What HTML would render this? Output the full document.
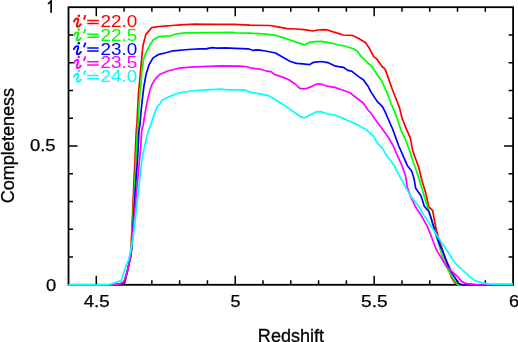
<!DOCTYPE html><html><head><meta charset="utf-8"><style>html,body{margin:0;padding:0;background:#fff;}svg{display:block;will-change:transform;font-family:"Liberation Sans",sans-serif;}</style></head><body>
<svg width="518" height="342" viewBox="0 0 518 342">
<rect width="518" height="342" fill="#fff"/>
<rect x="68.5" y="7.2" width="444.6" height="277.6" fill="none" stroke="#000" stroke-width="1.8"/>
<path d="M96.29 284.8v-9M96.29 7.2v9M124.08 284.8v-4.5M124.08 7.2v4.5M151.86 284.8v-4.5M151.86 7.2v4.5M179.65 284.8v-4.5M179.65 7.2v4.5M207.44 284.8v-4.5M207.44 7.2v4.5M235.22 284.8v-9M235.22 7.2v9M263.01 284.8v-4.5M263.01 7.2v4.5M290.80 284.8v-4.5M290.80 7.2v4.5M318.59 284.8v-4.5M318.59 7.2v4.5M346.38 284.8v-4.5M346.38 7.2v4.5M374.16 284.8v-9M374.16 7.2v9M401.95 284.8v-4.5M401.95 7.2v4.5M429.74 284.8v-4.5M429.74 7.2v4.5M457.53 284.8v-4.5M457.53 7.2v4.5M485.31 284.8v-4.5M485.31 7.2v4.5M68.5 257.04h4.5M513.1 257.04h-4.5M68.5 229.28h4.5M513.1 229.28h-4.5M68.5 201.52h4.5M513.1 201.52h-4.5M68.5 173.76h4.5M513.1 173.76h-4.5M68.5 146.00h9M513.1 146.00h-9M68.5 118.24h4.5M513.1 118.24h-4.5M68.5 90.48h4.5M513.1 90.48h-4.5M68.5 62.72h4.5M513.1 62.72h-4.5M68.5 34.96h4.5M513.1 34.96h-4.5" stroke="#000" stroke-width="1.5" fill="none"/>
<path d="M68.3 284.8 L114.0 284.8 L121.0 284.4 L124.8 282.6 L127.4 271.0 L130.2 257.0 L131.0 250.0 L132.3 220.0 L134.0 180.0 L135.0 160.0 L136.3 130.0 L136.9 125.0 L137.8 106.0 L138.7 89.7 L139.3 85.0 L140.8 68.4 L142.3 52.0 L143.1 45.0 L144.0 41.6 L145.8 34.6 L148.7 31.1 L151.6 27.7 L159.2 26.5 L165.0 26.1 L172.0 25.5 L180.2 24.9 L195.4 24.2 L215.0 24.4 L234.0 24.3 L250.0 25.2 L270.2 25.5 L277.9 26.9 L287.2 28.6 L296.5 29.0 L304.3 29.7 L312.8 31.0 L318.2 30.0 L324.4 29.7 L327.0 29.8 L333.2 31.9 L343.3 35.0 L352.6 35.5 L358.8 38.6 L365.7 42.8 L369.6 48.7 L373.5 56.4 L376.6 58.8 L382.0 66.5 L385.0 68.9 L388.1 77.4 L391.9 88.3 L395.8 98.3 L399.7 108.4 L402.0 118.0 L405.7 127.4 L410.4 138.3 L412.7 150.7 L416.6 161.5 L418.9 168.0 L421.9 180.5 L425.7 192.9 L428.8 206.9 L432.7 210.7 L434.0 218.0 L436.4 230.5 L440.1 242.9 L445.4 258.4 L448.6 268.0 L451.2 276.9 L454.5 282.2 L457.2 284.8 L513.0 284.8" stroke="#ff0000" stroke-width="1.7" fill="none" stroke-linejoin="round"/>
<path d="M68.3 284.8 L112.5 284.8 L120.0 283.8 L124.2 281.6 L127.4 271.0 L130.4 257.0 L131.3 250.0 L132.8 220.0 L135.0 180.0 L136.0 160.0 L137.5 130.0 L138.1 125.0 L138.9 108.4 L139.9 94.4 L140.8 85.0 L142.0 70.7 L143.7 59.0 L146.0 52.5 L147.6 49.7 L150.5 43.9 L153.4 39.8 L159.2 36.6 L165.0 36.1 L170.8 35.8 L176.7 33.8 L182.6 33.2 L188.4 32.9 L210.0 32.6 L232.7 32.4 L235.8 33.0 L250.0 33.1 L262.4 33.9 L274.8 35.2 L284.1 37.9 L290.3 40.1 L296.5 42.1 L304.3 44.9 L308.9 42.6 L315.1 41.7 L321.3 41.4 L330.0 42.9 L332.4 43.3 L337.8 44.8 L344.8 46.0 L353.3 48.7 L357.2 51.0 L361.1 56.4 L366.5 61.6 L371.9 66.5 L376.4 73.5 L381.9 81.3 L386.5 91.4 L391.2 103.8 L396.0 115.0 L401.1 130.5 L405.0 138.3 L409.6 150.7 L413.5 163.1 L414.9 166.0 L419.5 180.5 L424.2 196.0 L428.1 208.4 L431.2 218.0 L434.5 230.5 L439.0 244.5 L441.0 252.3 L446.7 267.5 L451.4 275.7 L454.9 281.0 L457.8 284.8 L513.0 284.8" stroke="#00ff00" stroke-width="1.7" fill="none" stroke-linejoin="round"/>
<path d="M68.3 284.8 L113.0 284.8 L120.5 284.2 L124.5 282.2 L127.4 271.0 L130.6 257.0 L131.6 250.0 L133.4 220.0 L136.0 180.0 L137.5 160.0 L139.0 130.0 L139.9 125.0 L141.0 112.0 L142.5 97.9 L144.1 85.0 L146.1 74.2 L149.0 64.9 L153.1 57.9 L158.9 54.3 L165.0 53.0 L173.2 50.8 L188.4 49.5 L200.0 48.9 L206.0 48.9 L211.8 47.6 L217.6 48.1 L225.0 47.8 L235.0 48.3 L248.2 48.8 L252.9 50.3 L257.8 49.9 L265.5 51.0 L275.6 53.0 L283.3 57.6 L290.3 61.5 L296.5 63.4 L302.7 63.8 L309.7 64.6 L313.6 62.3 L321.3 61.5 L327.8 62.6 L335.5 66.2 L343.3 67.3 L347.8 70.4 L351.6 71.2 L358.6 76.6 L363.3 79.7 L367.9 85.9 L371.0 92.1 L377.2 101.4 L382.6 106.9 L385.7 113.1 L387.8 118.0 L392.6 129.0 L398.8 146.0 L404.2 158.4 L407.3 165.4 L411.8 171.2 L414.1 179.0 L415.7 188.3 L421.1 196.0 L424.2 206.1 L428.8 211.5 L430.5 216.5 L434.9 230.5 L439.5 244.5 L442.5 251.0 L446.7 261.7 L451.4 272.2 L456.0 279.2 L458.4 283.3 L461.9 284.8 L513.0 284.8" stroke="#0000ff" stroke-width="1.7" fill="none" stroke-linejoin="round"/>
<path d="M68.3 284.8 L112.5 284.8 L120.0 283.8 L124.2 281.6 L127.4 271.0 L130.6 257.0 L131.3 250.0 L133.9 220.0 L137.7 180.0 L139.5 160.0 L140.5 150.0 L141.8 130.0 L143.2 125.0 L145.1 113.0 L147.5 100.2 L149.8 90.8 L151.7 85.0 L155.4 78.9 L160.1 74.2 L167.8 71.0 L178.6 68.2 L191.0 67.1 L206.5 66.3 L222.0 65.9 L240.0 66.2 L245.5 66.5 L251.7 68.1 L261.0 69.3 L267.2 71.2 L271.1 71.6 L274.2 74.4 L282.7 77.1 L288.9 79.8 L295.1 84.0 L299.8 88.4 L303.6 88.8 L305.2 89.0 L311.4 86.6 L317.6 83.8 L322.2 84.3 L326.9 86.2 L334.6 87.4 L342.4 90.0 L350.1 92.8 L357.9 99.0 L363.3 103.0 L367.9 110.0 L371.0 113.1 L374.1 118.0 L380.2 125.9 L387.9 136.7 L393.3 146.0 L398.0 156.9 L401.9 165.4 L405.6 175.9 L407.1 186.7 L411.0 197.6 L416.4 208.4 L420.9 215.0 L427.1 225.9 L432.6 239.8 L436.4 249.9 L440.8 257.0 L445.5 265.2 L451.4 271.0 L457.2 276.3 L461.9 281.6 L466.6 283.7 L475.9 284.6 L513.0 284.8" stroke="#ff00ff" stroke-width="1.7" fill="none" stroke-linejoin="round"/>
<path d="M68.3 284.8 L109.0 284.8 L116.0 282.4 L121.3 280.4 L125.4 267.5 L128.5 260.0 L130.0 254.0 L131.3 247.0 L132.8 240.0 L135.2 220.0 L139.6 180.0 L141.9 160.0 L143.9 150.0 L146.0 140.0 L148.6 130.0 L150.6 125.0 L153.9 115.4 L157.2 106.6 L159.8 104.2 L162.1 100.2 L166.0 98.0 L170.9 96.1 L178.6 93.0 L191.0 91.0 L206.5 89.9 L220.5 89.1 L228.2 89.9 L240.0 89.9 L245.5 90.2 L250.2 92.1 L261.0 94.1 L268.8 95.7 L275.0 99.5 L282.7 104.2 L290.5 109.6 L297.4 114.5 L301.3 117.2 L305.2 117.6 L309.8 115.0 L316.0 111.9 L321.4 111.7 L328.4 114.1 L334.6 115.0 L342.4 118.1 L350.1 121.5 L357.9 124.9 L362.0 127.5 L366.2 129.7 L373.2 135.9 L377.8 143.7 L382.5 148.3 L386.4 155.3 L391.8 162.3 L394.6 166.5 L400.2 177.4 L406.4 188.3 L411.0 196.8 L418.0 205.3 L423.4 214.6 L431.0 225.9 L438.8 238.3 L446.7 250.0 L454.9 262.9 L463.1 270.5 L470.1 276.9 L474.8 280.6 L481.8 282.7 L487.6 283.9 L495.0 284.2 L513.0 284.2" stroke="#00ffff" stroke-width="1.7" fill="none" stroke-linejoin="round"/>
<text x="96.7" y="306.6" font-size="16.3" text-anchor="middle" textLength="26" lengthAdjust="spacingAndGlyphs" stroke="#000" stroke-width="0.25">4.5</text>
<text x="235.5" y="306.6" font-size="16.3" text-anchor="middle" textLength="10" lengthAdjust="spacingAndGlyphs" stroke="#000" stroke-width="0.25">5</text>
<text x="374.3" y="306.6" font-size="16.3" text-anchor="middle" textLength="26.6" lengthAdjust="spacingAndGlyphs" stroke="#000" stroke-width="0.25">5.5</text>
<text x="514.0" y="306.6" font-size="16.3" text-anchor="middle" textLength="10.2" lengthAdjust="spacingAndGlyphs" stroke="#000" stroke-width="0.25">6</text>
<path d="M47.8 3.7Q49.9 3 51.1 0.9V12.8" stroke="#000" stroke-width="1.7" fill="none"/>
<text x="55.5" y="151.0" font-size="16.3" text-anchor="end" textLength="25.6" lengthAdjust="spacingAndGlyphs" stroke="#000" stroke-width="0.25">0.5</text>
<text x="56.2" y="290.5" font-size="16.3" text-anchor="end" textLength="10.2" lengthAdjust="spacingAndGlyphs" stroke="#000" stroke-width="0.25">0</text>
<text x="291.0" y="342.4" font-size="18.5" text-anchor="middle" textLength="66.3" lengthAdjust="spacingAndGlyphs" stroke="#000" stroke-width="0.3">Redshift</text>
<text transform="translate(13.9,145.6) rotate(-90)" stroke="#000" stroke-width="0.3" font-size="18.5" text-anchor="middle" textLength="115.5" lengthAdjust="spacingAndGlyphs">Completeness</text>
<g transform="translate(0,0.0)" fill="#ff0000" stroke="none"><path d="M73.9 21.5C74.8 19.7 76.3 18.4 77.6 18.6C78.6 18.8 78.3 20 77.9 21.2L76.9 24.6C76.5 26 76.9 26.9 78 26.7C79.1 26.5 80.1 25.5 80.8 24.3" stroke="#ff0000" stroke-width="1.9" fill="none" stroke-linecap="round" stroke-linejoin="round"/><circle cx="78.8" cy="15.7" r="1.25"/><path d="M85.5 15.0L83.8 19.6" stroke="#ff0000" stroke-width="1.8" fill="none"/><path d="M87.2 20.4H98.7M87.2 23.5H98.7" stroke="#ff0000" stroke-width="1.5" fill="none"/><text x="100.6" y="27.1" font-size="16.3" textLength="36.8" lengthAdjust="spacingAndGlyphs">22.0</text></g>
<g transform="translate(0,13.8)" fill="#00ff00" stroke="none"><path d="M73.9 21.5C74.8 19.7 76.3 18.4 77.6 18.6C78.6 18.8 78.3 20 77.9 21.2L76.9 24.6C76.5 26 76.9 26.9 78 26.7C79.1 26.5 80.1 25.5 80.8 24.3" stroke="#00ff00" stroke-width="1.9" fill="none" stroke-linecap="round" stroke-linejoin="round"/><circle cx="78.8" cy="15.7" r="1.25"/><path d="M85.5 15.0L83.8 19.6" stroke="#00ff00" stroke-width="1.8" fill="none"/><path d="M87.2 20.4H98.7M87.2 23.5H98.7" stroke="#00ff00" stroke-width="1.5" fill="none"/><text x="100.6" y="27.1" font-size="16.3" textLength="36.8" lengthAdjust="spacingAndGlyphs">22.5</text></g>
<g transform="translate(0,27.6)" fill="#0000ff" stroke="none"><path d="M73.9 21.5C74.8 19.7 76.3 18.4 77.6 18.6C78.6 18.8 78.3 20 77.9 21.2L76.9 24.6C76.5 26 76.9 26.9 78 26.7C79.1 26.5 80.1 25.5 80.8 24.3" stroke="#0000ff" stroke-width="1.9" fill="none" stroke-linecap="round" stroke-linejoin="round"/><circle cx="78.8" cy="15.7" r="1.25"/><path d="M85.5 15.0L83.8 19.6" stroke="#0000ff" stroke-width="1.8" fill="none"/><path d="M87.2 20.4H98.7M87.2 23.5H98.7" stroke="#0000ff" stroke-width="1.5" fill="none"/><text x="100.6" y="27.1" font-size="16.3" textLength="36.8" lengthAdjust="spacingAndGlyphs">23.0</text></g>
<g transform="translate(0,41.4)" fill="#ff00ff" stroke="none"><path d="M73.9 21.5C74.8 19.7 76.3 18.4 77.6 18.6C78.6 18.8 78.3 20 77.9 21.2L76.9 24.6C76.5 26 76.9 26.9 78 26.7C79.1 26.5 80.1 25.5 80.8 24.3" stroke="#ff00ff" stroke-width="1.9" fill="none" stroke-linecap="round" stroke-linejoin="round"/><circle cx="78.8" cy="15.7" r="1.25"/><path d="M85.5 15.0L83.8 19.6" stroke="#ff00ff" stroke-width="1.8" fill="none"/><path d="M87.2 20.4H98.7M87.2 23.5H98.7" stroke="#ff00ff" stroke-width="1.5" fill="none"/><text x="100.6" y="27.1" font-size="16.3" textLength="36.8" lengthAdjust="spacingAndGlyphs">23.5</text></g>
<g transform="translate(0,55.2)" fill="#00ffff" stroke="none"><path d="M73.9 21.5C74.8 19.7 76.3 18.4 77.6 18.6C78.6 18.8 78.3 20 77.9 21.2L76.9 24.6C76.5 26 76.9 26.9 78 26.7C79.1 26.5 80.1 25.5 80.8 24.3" stroke="#00ffff" stroke-width="1.9" fill="none" stroke-linecap="round" stroke-linejoin="round"/><circle cx="78.8" cy="15.7" r="1.25"/><path d="M85.5 15.0L83.8 19.6" stroke="#00ffff" stroke-width="1.8" fill="none"/><path d="M87.2 20.4H98.7M87.2 23.5H98.7" stroke="#00ffff" stroke-width="1.5" fill="none"/><text x="100.6" y="27.1" font-size="16.3" textLength="36.8" lengthAdjust="spacingAndGlyphs">24.0</text></g>
</svg></body></html>
